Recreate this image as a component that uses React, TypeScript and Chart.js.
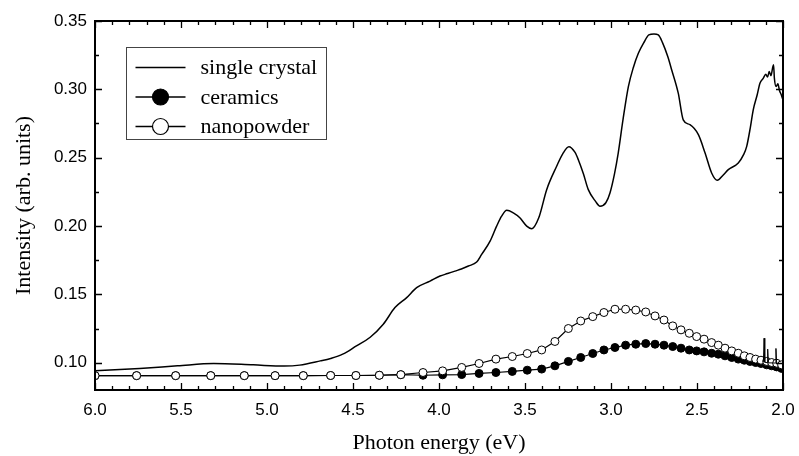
import React, { useEffect, useRef } from "react";
import { Chart, registerables } from "chart.js";

Chart.register(...registerables);

// ---------- data ----------
const crystalEnergy = [
  6.0, 5.74, 5.52, 5.31, 5.08, 4.9, 4.81, 4.69, 4.63, 4.56, 4.48, 4.4, 4.324, 4.256, 4.188, 4.13, 4.052,
  3.994, 3.95, 3.907, 3.87, 3.829, 3.781, 3.752, 3.703, 3.665, 3.636, 3.606, 3.568, 3.53, 3.49, 3.461,
  3.42, 3.374, 3.316, 3.28, 3.245, 3.21, 3.19, 3.16, 3.132, 3.09, 3.064, 3.03, 3.006, 2.98, 2.958, 2.93,
  2.899, 2.87, 2.841, 2.81, 2.78, 2.75, 2.725, 2.7, 2.67, 2.647, 2.609, 2.58, 2.541, 2.492, 2.453, 2.415,
  2.382, 2.35, 2.318, 2.26, 2.23, 2.211, 2.19, 2.173, 2.15, 2.134, 2.115, 2.1, 2.09, 2.08, 2.07, 2.06,
  2.055, 2.05, 2.04, 2.03, 2.02, 2.01, 2.0,
];
const crystalIntensity = [
  0.094, 0.0958, 0.0977, 0.0994, 0.0984, 0.0975, 0.0982, 0.1013, 0.1031, 0.1062, 0.1123, 0.1186, 0.1281,
  0.1403, 0.1476, 0.1549, 0.1597, 0.1634, 0.1652, 0.167, 0.1685, 0.1707, 0.1736, 0.1792, 0.1889, 0.1999,
  0.2072, 0.2115, 0.2096, 0.206, 0.1999, 0.198, 0.206, 0.2266, 0.2437, 0.253, 0.258, 0.254, 0.2485, 0.238,
  0.2266, 0.218, 0.2145, 0.217, 0.2242, 0.238, 0.2534, 0.278, 0.302, 0.316, 0.3264, 0.334, 0.3398, 0.3405,
  0.3398, 0.334, 0.324, 0.3142, 0.2972, 0.2777, 0.2741, 0.2668, 0.2534, 0.2388, 0.2334, 0.237, 0.2412,
  0.2461, 0.252, 0.2583, 0.272, 0.285, 0.296, 0.3045, 0.308, 0.311, 0.309, 0.313, 0.31, 0.316, 0.318,
  0.308, 0.302, 0.304, 0.299, 0.296, 0.292,
];

const markerEnergy = [
  6.0, 5.758, 5.531, 5.327, 5.132, 4.953, 4.789, 4.63, 4.483, 4.347, 4.222, 4.093, 3.979, 3.868, 3.767,
  3.669, 3.574, 3.487, 3.403, 3.326, 3.248, 3.176, 3.106, 3.041, 2.977, 2.915, 2.856, 2.798, 2.744, 2.692,
  2.641, 2.593, 2.545, 2.502, 2.459, 2.415, 2.376, 2.337, 2.298, 2.26, 2.225, 2.192, 2.159, 2.128, 2.095,
  2.066, 2.037, 2.008,
];
const ceramicsIntensity = [
  0.0905, 0.0905, 0.0905, 0.0905, 0.0905, 0.0905, 0.0905, 0.0906, 0.0906, 0.0908, 0.0912, 0.0908, 0.0911,
  0.0913, 0.0921, 0.0928, 0.0936, 0.0945, 0.0953, 0.0977, 0.1009, 0.1038, 0.1067, 0.1093, 0.1111, 0.1128,
  0.1135, 0.114, 0.1135, 0.1128, 0.1118, 0.1106, 0.1093, 0.1086, 0.1079, 0.1069, 0.1062, 0.105, 0.1038,
  0.1026, 0.1018, 0.1009, 0.1001, 0.0994, 0.0984, 0.0977, 0.0969, 0.0958,
];
const nanopowderIntensity = [
  0.0905, 0.0905, 0.0905, 0.0905, 0.0905, 0.0905, 0.0905, 0.0906, 0.0906, 0.0908, 0.0912, 0.0928, 0.094,
  0.0965, 0.0994, 0.1026, 0.1045, 0.1067, 0.1093, 0.1155, 0.125, 0.1305, 0.1337, 0.1367, 0.1391, 0.1391,
  0.1385, 0.1371, 0.1342, 0.1312, 0.1269, 0.124, 0.1215, 0.1191, 0.1172, 0.1147, 0.1128, 0.1106, 0.1086,
  0.1069, 0.105, 0.1038, 0.1026, 0.1018, 0.1009, 0.1001, 0.0996, 0.0984,
];

// narrow noise spikes near 2.1 eV
const spikeEnergy = [2.114, 2.11, 2.106, 2.093, 2.089, 2.085, 2.045, 2.041, 2.037];
const spikeIntensity = [0.1005, 0.1179, 0.1003, 0.1, 0.1099, 0.0999, 0.0997, 0.1104, 0.0995];

const xTickLabels = ["6.0", "5.5", "5.0", "4.5", "4.0", "3.5", "3.0", "2.5", "2.0"];
const yTickLabels = ["0.10", "0.15", "0.20", "0.25", "0.30", "0.35"];

const seriesNames = ["single crystal", "ceramics", "nanopowder"];

const toPoints = (xs: number[], ys: number[]) => xs.map((x, i) => ({ x, y: ys[i] }));

const SANS = "'Liberation Sans', Arial, sans-serif";
const SERIF = "'Liberation Serif', 'Times New Roman', serif";

const framePlugin = {
  id: "frameTicks",
  afterDraw(chart: any) {
    const { ctx, chartArea: a, scales } = chart;
    const xs = scales.x;
    const ys = scales.y;
    ctx.save();
    ctx.strokeStyle = "#000";
    // ticks
    ctx.lineWidth = 1.3;
    const xMajor = xTickLabels.map(Number);
    const yMajor = yTickLabels.map(Number);
    ctx.beginPath();
    for (let i = 0; i <= 40; i++) {
      const v = 2 + i * 0.1;
      const isMajor = xMajor.some((m) => Math.abs(m - v) < 1e-6);
      const len = isMajor ? 7 : 4;
      const px = Math.round(xs.getPixelForValue(v)) + 0.5;
      ctx.moveTo(px, a.bottom);
      ctx.lineTo(px, a.bottom - len);
      ctx.moveTo(px, a.top);
      ctx.lineTo(px, a.top + len);
    }
    for (let i = 0; i <= 12; i++) {
      const v = 0.075 + i * 0.025;
      if (v < ys.min - 1e-9 || v > ys.max + 1e-9) continue;
      const isMajor = yMajor.some((m) => Math.abs(m - v) < 1e-6);
      const len = isMajor ? 7 : 4;
      const py = Math.round(ys.getPixelForValue(v)) + 0.5;
      ctx.moveTo(a.left, py);
      ctx.lineTo(a.left + len, py);
      ctx.moveTo(a.right, py);
      ctx.lineTo(a.right - len, py);
    }
    ctx.stroke();
    // frame
    ctx.lineWidth = 2;
    ctx.strokeRect(a.left, a.top, a.right - a.left, a.bottom - a.top);

    // legend
    const bx = a.left + 31.5;
    const by = a.top + 26.5;
    const bw = 200;
    const bh = 92;
    ctx.fillStyle = "#fff";
    ctx.fillRect(bx, by, bw, bh);
    ctx.lineWidth = 1;
    ctx.strokeStyle = "#444";
    ctx.strokeRect(bx, by, bw, bh);
    ctx.font = `22px ${SERIF}`;
    ctx.textBaseline = "middle";
    ctx.textAlign = "left";
    const datasets = chart.data.datasets;
    for (let i = 0; i < 3; i++) {
      const ds = datasets[i];
      const ry = by + 20 + i * 29.5;
      ctx.strokeStyle = "#000";
      ctx.lineWidth = 1.3;
      ctx.beginPath();
      ctx.moveTo(bx + 9, ry);
      ctx.lineTo(bx + 59, ry);
      ctx.stroke();
      if (ds.pointRadius > 0) {
        ctx.beginPath();
        ctx.arc(bx + 34, ry, 8, 0, Math.PI * 2);
        ctx.fillStyle = ds.pointBackgroundColor;
        ctx.fill();
        ctx.lineWidth = 1.2;
        ctx.stroke();
      }
      ctx.fillStyle = "#000";
      ctx.fillText(ds.label, bx + 74, ry + 1);
    }
    ctx.restore();
  },
};

export default function App() {
  const ref = useRef<HTMLCanvasElement | null>(null);

  useEffect(() => {
    if (!ref.current) return;
    const chart = new Chart(ref.current, {
      type: "line",
      data: {
        datasets: [
          {
            label: seriesNames[0],
            data: toPoints(crystalEnergy, crystalIntensity),
            borderColor: "#000",
            borderWidth: 1.5,
            pointRadius: 0,
            cubicInterpolationMode: "monotone",
            order: 3,
          } as any,
          {
            label: seriesNames[1],
            data: toPoints(markerEnergy, ceramicsIntensity),
            borderColor: "#000",
            borderWidth: 1.2,
            pointRadius: 4,
            pointBackgroundColor: "#000",
            pointBorderColor: "#000",
            pointBorderWidth: 1,
            order: 2,
          },
          {
            label: seriesNames[2],
            data: toPoints(markerEnergy, nanopowderIntensity),
            borderColor: "#000",
            borderWidth: 1.2,
            pointRadius: 4,
            pointBackgroundColor: "#fff",
            pointBorderColor: "#000",
            pointBorderWidth: 1,
            order: 1,
          },
          {
            label: "spikes",
            data: toPoints(spikeEnergy, spikeIntensity),
            borderColor: "#000",
            borderWidth: 1,
            pointRadius: 0,
            order: 0,
          },
        ],
      },
      options: {
        animation: false,
        responsive: true,
        maintainAspectRatio: false,
        layout: { padding: { top: 21, right: 16, left: 0, bottom: 0 } },
        plugins: { legend: { display: false }, tooltip: { enabled: false } },
        scales: {
          x: {
            type: "linear",
            reverse: true,
            min: 2,
            max: 6,
            grid: { display: false, drawTicks: false },
            border: { display: false },
            afterBuildTicks: (s: any) => {
              s.ticks = xTickLabels.map((t) => ({ value: Number(t) }));
            },
            afterFit: (s: any) => {
              s.height = 66;
              s.paddingLeft = 0;
              s.paddingRight = 0;
            },
            ticks: {
              padding: 10,
              color: "#000",
              font: { family: SANS, size: 17 },
              maxRotation: 0,
              callback: (v: any) => xTickLabels.find((t) => Math.abs(Number(t) - v) < 1e-6) ?? "",
            },
            title: {
              display: true,
              text: "Photon energy (eV)",
              color: "#000",
              font: { family: SERIF, size: 22 },
              padding: { top: 0, bottom: 0 },
            },
          },
          y: {
            type: "linear",
            min: 0.08,
            max: 0.35,
            grid: { display: false, drawTicks: false },
            border: { display: false },
            afterBuildTicks: (s: any) => {
              s.ticks = yTickLabels.map((t) => ({ value: Number(t) }));
            },
            afterFit: (s: any) => {
              s.width = 95;
              s.paddingTop = 0;
              s.paddingBottom = 0;
            },
            ticks: {
              padding: 8,
              color: "#000",
              font: { family: SANS, size: 17 },
              callback: (v: any) => yTickLabels.find((t) => Math.abs(Number(t) - v) < 1e-6) ?? "",
            },
            title: {
              display: true,
              text: "Intensity (arb. units)",
              color: "#000",
              font: { family: SERIF, size: 22 },
              padding: { top: 11, bottom: 0 },
            },
          },
        },
      },
      plugins: [framePlugin],
    });
    return () => chart.destroy();
  }, []);

  return (
    <div style={{ position: "absolute", left: 0, top: 0, width: 799, height: 456, background: "#fff" }}>
      <canvas ref={ref} />
    </div>
  );
}
